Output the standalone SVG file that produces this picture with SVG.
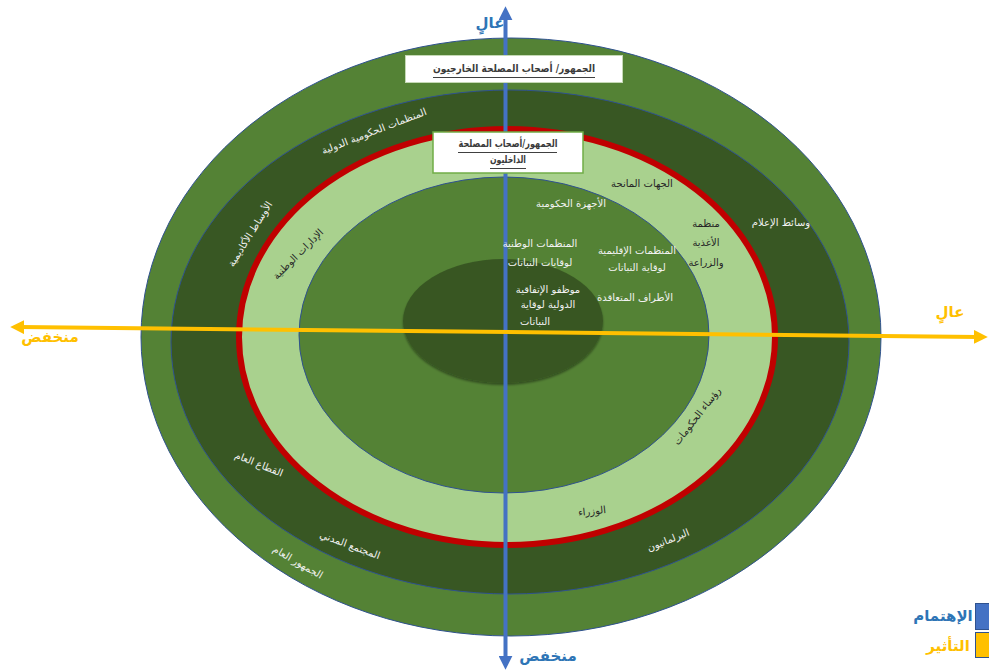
<svg xmlns="http://www.w3.org/2000/svg" width="989" height="671" viewBox="0 0 989 671">
<defs>
<style>
.t{font-family:'DejaVu Sans',sans-serif;font-size:10px;text-anchor:middle}
.w{fill:#f2f2f2}
.d{fill:#262626}
.bt{font-family:'DejaVu Sans',sans-serif;font-size:10.5px;font-weight:bold;fill:#3b3b3b;text-anchor:middle}
.ul{stroke:#404040;stroke-width:1}
.ax{font-family:'DejaVu Sans',sans-serif;font-weight:bold;font-size:15px;text-anchor:middle}
.blue{fill:#2e75b6}
.yel{fill:#ffc000}
.edge{stroke:#2f528f;stroke-width:1}
</style>
<marker id="ab" viewBox="0 0 10 10" refX="3" refY="5" markerWidth="3.5" markerHeight="3.5" orient="auto-start-reverse"><path d="M0,0 L10,5 L0,10 z" fill="#4472c4"/></marker>
<marker id="ay" viewBox="0 0 10 10" refX="3" refY="5" markerWidth="3.5" markerHeight="3.5" orient="auto-start-reverse"><path d="M0,0 L10,5 L0,10 z" fill="#ffc000"/></marker>
<filter id="sh" x="-20%" y="-20%" width="140%" height="150%"><feDropShadow dx="0" dy="2" stdDeviation="1.2" flood-color="#000" flood-opacity="0.4"/></filter>
</defs>

<g id="ring-outer"><ellipse cx="511" cy="337" rx="370" ry="299" fill="#548235" class="edge"/></g>
<g id="ring-dark"><ellipse cx="510" cy="342" rx="339" ry="252" fill="#385723" class="edge"/></g>
<g id="ring-light"><ellipse cx="507" cy="337" rx="268" ry="208" fill="#a9d18e" stroke="#c00000" stroke-width="6"/></g>
<g id="ring-mid"><ellipse cx="504" cy="335" rx="205" ry="158" fill="#548235" class="edge"/></g>
<g id="ring-core"><ellipse cx="503" cy="321" rx="100" ry="62" fill="#385723" filter="url(#sh)"/></g>

<g id="connectors">
<line x1="505.5" y1="660" x2="505.5" y2="16" stroke="#4472c4" stroke-width="4" marker-start="url(#ab)" marker-end="url(#ab)"/>
<line x1="20" y1="327.1" x2="978" y2="336.9" stroke="#ffc000" stroke-width="4" marker-start="url(#ay)" marker-end="url(#ay)"/>
</g>

<g id="box-external">
<rect x="405.5" y="55.5" width="217" height="27" fill="#fff" stroke="#c5d9b5" stroke-width="1"/>
<text class="bt" x="514" y="72" textLength="162" lengthAdjust="spacingAndGlyphs">الجمهور/ أصحاب المصلحة الخارجيون</text>
<line class="ul" x1="433" y1="77.5" x2="595" y2="77.5"/>
</g>
<g id="box-internal">
<rect x="433" y="132" width="150" height="41" fill="#fff" stroke="#70ad47" stroke-width="1.5"/>
<text class="bt" x="508" y="147" textLength="99" lengthAdjust="spacingAndGlyphs">الجمهور/أصحاب المصلحة</text>
<line class="ul" x1="458" y1="152.5" x2="557" y2="152.5"/>
<text class="bt" x="508" y="163" textLength="36" lengthAdjust="spacingAndGlyphs">الداخليون</text>
<line class="ul" x1="490" y1="168.5" x2="526" y2="168.5"/>
</g>

<g id="labels-outer">
<text class="t w" transform="translate(374,131) rotate(-21)" dy="0.35em">المنظمات الحكومية الدولية</text>
<text class="t w" transform="translate(250,234) rotate(-58)" dy="0.35em">الأوساط الأكاديمية</text>
<text class="t w" transform="translate(781,222)" dy="0.35em">وسائط الإعلام</text>
<text class="t w" transform="translate(259,464) rotate(22)" dy="0.35em">القطاع العام</text>
<text class="t w" transform="translate(350,545) rotate(20)" dy="0.35em">المجتمع المدني</text>
<text class="t w" transform="translate(298,562) rotate(30)" dy="0.35em">الجمهور العام</text>
<text class="t w" transform="translate(668,540) rotate(-22)" dy="0.35em">البرلمانيون</text>
</g>

<g id="labels-light">
<text class="t d" transform="translate(298,254) rotate(-45)" dy="0.35em">الإدارات الوطنية</text>
<text class="t d" transform="translate(642,183)" dy="0.35em">الجهات المانحة</text>
<text class="t d" x="706" y="227">منظمة</text>
<text class="t d" x="706" y="246">الأغذية</text>
<text class="t d" x="706" y="266">والزراعة</text>
<text class="t d" transform="translate(697,416) rotate(-52)" dy="0.35em">رؤساء الحكومات</text>
<text class="t d" transform="translate(592,511) rotate(-6)" dy="0.35em">الوزراء</text>
</g>

<g id="labels-mid">
<text class="t w" transform="translate(571,203)" dy="0.35em">الأجهزة الحكومية</text>
<text class="t w" x="540" y="247">المنظمات الوطنية</text>
<text class="t w" x="540" y="266">لوقايات النباتات</text>
<text class="t w" x="637" y="254">المنظمات الإقليمية</text>
<text class="t w" x="637" y="271">لوقاية النباتات</text>
<text class="t w" x="635" y="301">الأطراف المتعاقدة</text>
</g>

<g id="labels-core">
<text class="t w" x="548" y="293">موظفو الإتفاقية</text>
<text class="t w" x="548" y="308">الدولية لوقاية</text>
<text class="t w" x="535" y="325">النباتات</text>
</g>

<g id="axis-labels">
<text class="ax blue" x="490" y="28" font-size="17">عالٍ</text>
<text class="ax blue" x="548" y="661">منخفض</text>
<text class="ax yel" x="50" y="342">منخفض</text>
<text class="ax yel" x="950" y="317">عالٍ</text>
</g>

<g id="legend">
<rect x="975.5" y="603.5" width="20" height="26" fill="#4472c4" stroke="#2f528f"/>
<rect x="975.5" y="632.5" width="20" height="25" fill="#ffc000" stroke="#2f528f"/>
<text class="ax blue" x="943" y="621">الإهتمام</text>
<text class="ax yel" x="948" y="651">التأثير</text>
</g>
</svg>
